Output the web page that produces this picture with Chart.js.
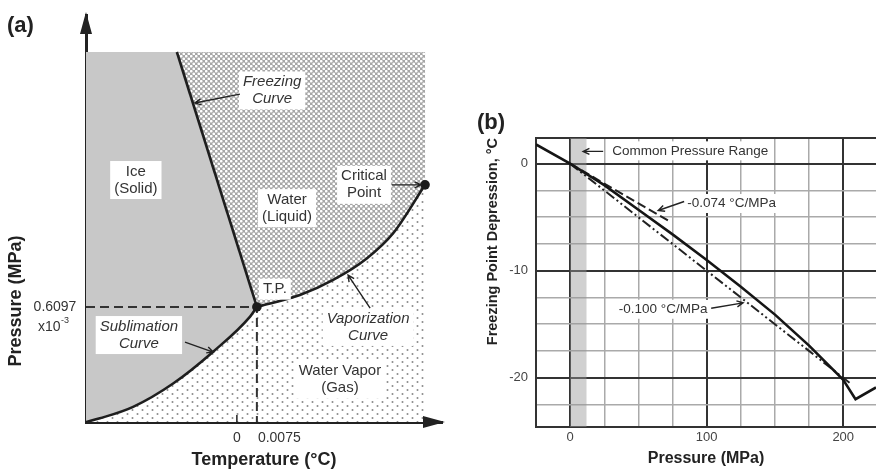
<!DOCTYPE html>
<html>
<head>
<meta charset="utf-8">
<title>Water phase diagram and freezing point depression</title>
<script src="https://cdn.jsdelivr.net/npm/chart.js@4.4.1/dist/chart.umd.min.js"></script>
<style>
  html, body { margin: 0; padding: 0; background: #fff; }
  #wrap { position: relative; width: 876px; height: 471px; overflow: hidden; }
  #phaseChart { position: absolute; left: 0; top: 0; }
  #depressionChart { position: absolute; left: 460px; top: 0; }
</style>
</head>
<body>
<div id="wrap">
  <canvas id="phaseChart" width="460" height="471"></canvas>
  <canvas id="depressionChart" width="416" height="471"></canvas>
</div>
<script>
// (a) schematic phase diagram - arbitrary units, shaded field spans 0..100 on both axes
const diagramT = [0, 100];
const diagramP = [0, 100];
const sublimationT = [0, 4.1, 13.9, 25.7, 37.5, 48.4, 50.4];
const sublimationP = [0, 1.0, 4.1, 10.4, 19.0, 28.5, 31.1];
const vaporizationT = [50.4, 63.1, 72.9, 82.8, 90.6, 100];
const vaporizationP = [31.1, 34.3, 38.4, 44.2, 51.0, 64.1];
const freezingT = [50.4, 26.8];
const freezingP = [31.1, 100];
const triplePoint = [50.4, 31.1];
const criticalPoint = [100, 64.1];
const zeroCelsiusT = 44.5;
const tempTickLabels = ['0', '0.0075'];
const pressTickLabel = '0.6097';

// (b) melting curve of ice vs pressure, with two linear approximations
const pressureMPa = [-25, 0, 25, 50, 75, 100, 125, 150, 175, 200, 209, 224];
const freezingPointC = [1.8, 0, -2.0, -4.3, -6.6, -9.0, -11.5, -14.1, -17.0, -20.2, -22.0, -20.9];
const slope074P = [0, 73];
const slope074T = [0, -5.4];
const slope100P = [0, 205];
const slope100T = [0, -20.5];
const commonRangeMPa = [0, 12];
const pressureTicks = [-25, 0, 25, 50, 75, 100, 125, 150, 175, 200];
const depressionTicks = [-22.5, -20, -17.5, -15, -12.5, -10, -7.5, -5, -2.5, 0];
const pressureRange = [-25, 224];
const depressionRange = [-24.6, 2.4];

const FONT = "'Liberation Sans', Arial, Helvetica, sans-serif";
Chart.defaults.font.family = FONT;

const pts = (xs, ys) => xs.map((x, i) => ({ x: x, y: ys[i] }));

// fill patterns for the liquid (mesh) and vapour (dots) fields
function meshPattern() {
    const c = document.createElement('canvas');
    c.width = 5; c.height = 5;
    const g = c.getContext('2d');
    g.fillStyle = '#a6a6a6';
    g.fillRect(0, 0, 5, 5);
    g.fillStyle = '#ffffff';
    [[1.25, 1.25], [3.75, 3.75]].forEach(([x, y]) => {
        g.beginPath(); g.arc(x, y, 1.35, 0, Math.PI * 2); g.fill();
    });
    return g.createPattern(c, 'repeat');
}
function dotPattern() {
    const c = document.createElement('canvas');
    c.width = 10; c.height = 8;
    const g = c.getContext('2d');
    g.fillStyle = '#ffffff';
    g.fillRect(0, 0, 10, 8);
    g.fillStyle = '#8a8a8a';
    [[2.5, 2], [7.5, 6]].forEach(([x, y]) => {
        g.beginPath(); g.arc(x, y, 1.0, 0, Math.PI * 2); g.fill();
    });
    return g.createPattern(c, 'repeat');
}

function arrow(ctx, x1, y1, x2, y2) {
    const a = Math.atan2(y2 - y1, x2 - x1);
    ctx.beginPath();
    ctx.moveTo(x1, y1);
    ctx.lineTo(x2, y2);
    ctx.moveTo(x2 - 7 * Math.cos(a - 0.45), y2 - 7 * Math.sin(a - 0.45));
    ctx.lineTo(x2, y2);
    ctx.lineTo(x2 - 7 * Math.cos(a + 0.45), y2 - 7 * Math.sin(a + 0.45));
    ctx.stroke();
}

// boxed text labels + pointer arrows, placed in data units
function notesPlugin(items, size, lineH) {
    return {
        id: 'notes',
        afterDatasetsDraw(chart) {
            const { ctx, scales: { x, y } } = chart;
            ctx.save();
            items.forEach(n => {
                ctx.font = (n.italic ? 'italic ' : '') + size + 'px ' + FONT;
                const cx = x.getPixelForValue(n.at[0]);
                const cy = y.getPixelForValue(n.at[1]);
                const w = Math.max(...n.lines.map(l => ctx.measureText(l).width)) + 8;
                const h = n.lines.length * lineH + 4;
                ctx.fillStyle = '#fff';
                ctx.fillRect(cx - w / 2, cy - h / 2, w, h);
                ctx.fillStyle = '#333';
                ctx.textAlign = 'center';
                ctx.textBaseline = 'middle';
                n.lines.forEach((l, i) => {
                    ctx.fillText(l, cx, cy - (n.lines.length - 1) * lineH / 2 + i * lineH);
                });
                if (n.arrow) {
                    ctx.strokeStyle = '#222';
                    ctx.lineWidth = 1.4;
                    const [[ax, ay], [bx, by]] = n.arrow;
                    arrow(ctx, x.getPixelForValue(ax), y.getPixelForValue(ay),
                        x.getPixelForValue(bx), y.getPixelForValue(by));
                }
            });
            ctx.restore();
        }
    };
}

// ---------- (a) phase diagram ----------
const phaseNotes = [
    { lines: ['Ice', '(Solid)'], at: [14.7, 65.4] },
    { lines: ['Freezing', 'Curve'], at: [54.9, 89.6], italic: true, arrow: [[45.4, 88.6], [32.1, 86.2]] },
    { lines: ['Water', '(Liquid)'], at: [59.3, 57.8] },
    { lines: ['Critical', 'Point'], at: [82.0, 64.1], arrow: [[90.2, 64.1], [98.8, 64.1]] },
    { lines: ['T.P.'], at: [55.7, 35.9] },
    { lines: ['Sublimation', 'Curve'], at: [15.6, 23.5], italic: true, arrow: [[29.2, 21.6], [37.5, 18.9]] },
    { lines: ['Vaporization', 'Curve'], at: [83.2, 25.7], italic: true, arrow: [[83.8, 30.8], [77.3, 39.7]] },
    { lines: ['Water Vapor', '(Gas)'], at: [74.9, 11.4] }
];

const phaseAxes = {
    id: 'phaseAxes',
    afterDraw(chart) {
        const { ctx, chartArea: a, scales: { x, y } } = chart;
        ctx.save();
        ctx.fillStyle = '#222';
        // arrow heads on both axes
        ctx.beginPath();
        ctx.moveTo(a.left, a.top - 3);
        ctx.lineTo(a.left - 6, a.top + 19);
        ctx.lineTo(a.left + 6, a.top + 19);
        ctx.fill();
        ctx.beginPath();
        ctx.moveTo(a.right + 3, a.bottom);
        ctx.lineTo(a.right - 19, a.bottom - 6);
        ctx.lineTo(a.right - 19, a.bottom + 6);
        ctx.fill();
        // tick at 0 degC
        const x0 = x.getPixelForValue(zeroCelsiusT);
        ctx.strokeStyle = '#222';
        ctx.lineWidth = 1.5;
        ctx.beginPath();
        ctx.moveTo(x0, a.bottom);
        ctx.lineTo(x0, a.bottom - 7);
        ctx.stroke();
        // tick labels
        ctx.fillStyle = '#333';
        ctx.font = '14px ' + FONT;
        ctx.textBaseline = 'middle';
        ctx.textAlign = 'center';
        ctx.fillText(tempTickLabels[0], x0, a.bottom + 16);
        ctx.textAlign = 'left';
        ctx.fillText(tempTickLabels[1], x.getPixelForValue(triplePoint[0]) + 1, a.bottom + 16);
        const yTp = y.getPixelForValue(triplePoint[1]);
        ctx.textAlign = 'center';
        ctx.fillText(pressTickLabel, a.left - 31, yTp);
        ctx.textAlign = 'left';
        ctx.fillText('x10', a.left - 48, yTp + 20);
        ctx.font = '9px ' + FONT;
        ctx.fillText('-3', a.left - 25, yTp + 14);
        // axis titles
        ctx.fillStyle = '#222';
        ctx.font = 'bold 18px ' + FONT;
        ctx.textAlign = 'center';
        ctx.fillText('Temperature (°C)', (a.left + a.right) / 2, a.bottom + 38);
        ctx.save();
        ctx.translate(a.left - 70, a.top + 286);
        ctx.rotate(-Math.PI / 2);
        ctx.fillText('Pressure (MPa)', 0, 0);
        ctx.restore();
        ctx.font = 'bold 22px ' + FONT;
        ctx.textAlign = 'left';
        ctx.fillText('(a)', 7, 26);
        ctx.restore();
    }
};

const curveStyle = { borderColor: '#1e1e1e', borderWidth: 2.6, pointRadius: 0, fill: false, cubicInterpolationMode: 'monotone', order: 3 };
const regionStyle = { borderWidth: 0, pointRadius: 0, fill: 'shape', tension: 0 };

new Chart(document.getElementById('phaseChart'), {
    type: 'line',
    data: {
        datasets: [
            Object.assign({ label: 'Vapour field', order: 10, backgroundColor: dotPattern(),
                data: [{ x: diagramT[0], y: diagramP[0] }, { x: diagramT[1], y: diagramP[0] },
                       { x: diagramT[1], y: diagramP[1] }, { x: diagramT[0], y: diagramP[1] }] }, regionStyle),
            Object.assign({ label: 'Liquid field', order: 9, backgroundColor: meshPattern(),
                data: pts(vaporizationT, vaporizationP).concat([{ x: diagramT[1], y: diagramP[1] }, { x: freezingT[1], y: freezingP[1] }]) }, regionStyle),
            Object.assign({ label: 'Ice field', order: 8, backgroundColor: '#c8c8c8',
                data: pts(sublimationT, sublimationP).concat([{ x: freezingT[1], y: freezingP[1] }, { x: diagramT[0], y: diagramP[1] }]) }, regionStyle),
            Object.assign({ label: 'Sublimation', data: pts(sublimationT, sublimationP) }, curveStyle),
            Object.assign({ label: 'Vaporization', data: pts(vaporizationT, vaporizationP) }, curveStyle),
            Object.assign({ label: 'Freezing', data: pts(freezingT, freezingP) }, curveStyle, { cubicInterpolationMode: 'default', tension: 0 }),
            {
                label: 'Triple point guides', order: 4, borderColor: '#333', borderWidth: 2, borderDash: [9, 5],
                pointRadius: 0, fill: false, tension: 0,
                data: [{ x: diagramT[0], y: triplePoint[1] }, { x: triplePoint[0], y: triplePoint[1] }, { x: triplePoint[0], y: diagramP[0] }]
            },
            {
                label: 'Points', order: 1, showLine: false, pointRadius: 4.8, pointBackgroundColor: '#1a1a1a',
                pointBorderWidth: 0, data: [{ x: triplePoint[0], y: triplePoint[1] }, { x: criticalPoint[0], y: criticalPoint[1] }]
            }
        ]
    },
    options: {
        responsive: false,
        animation: false,
        devicePixelRatio: 1,
        layout: { padding: { left: 86, right: 18, top: 15, bottom: 49 } },
        plugins: { legend: { display: false }, tooltip: { enabled: false } },
        scales: {
            x: { type: 'linear', min: 0, max: 105, grid: { display: false, drawTicks: false }, ticks: { display: false },
                 border: { display: true, width: 3, color: '#222' } },
            y: { type: 'linear', min: 0, max: 110, grid: { display: false, drawTicks: false }, ticks: { display: false },
                 border: { display: true, width: 3, color: '#222' } }
        }
    },
    plugins: [notesPlugin(phaseNotes, 15, 17), phaseAxes]
});

// ---------- (b) freezing point depression ----------
const depressionNotes = [
    { lines: ['Common Pressure Range'], at: [87.9, 1.2], arrow: [[24.2, 1.15], [9.5, 1.15]] },
    { lines: ['-0.074 °C/MPa'], at: [118.3, -3.72], arrow: [[83.5, -3.53], [64.5, -4.37]] },
    { lines: ['-0.100 °C/MPa'], at: [68.1, -13.6], arrow: [[103.3, -13.5], [126.7, -13.0]] }
];

const panelLetter = {
    id: 'panelLetter',
    afterDraw(chart) {
        const ctx = chart.ctx;
        ctx.save();
        ctx.fillStyle = '#222';
        ctx.font = 'bold 22px ' + FONT;
        ctx.textBaseline = 'middle';
        ctx.fillText('(b)', 17, 123);
        ctx.restore();
    }
};

const isMajor = (v, step) => Math.abs(v / step - Math.round(v / step)) < 1e-6;

new Chart(document.getElementById('depressionChart'), {
    type: 'line',
    data: {
        datasets: [
            {
                label: 'Common pressure range', order: 10, borderWidth: 0, pointRadius: 0, fill: 'shape', tension: 0,
                backgroundColor: 'rgba(150,150,150,0.45)',
                data: [{ x: commonRangeMPa[0], y: depressionRange[0] }, { x: commonRangeMPa[1], y: depressionRange[0] },
                       { x: commonRangeMPa[1], y: depressionRange[1] }, { x: commonRangeMPa[0], y: depressionRange[1] }]
            },
            {
                label: '-0.100 °C/MPa', order: 3, borderColor: '#222', borderWidth: 2, borderDash: [10, 3, 2, 3, 2, 3],
                pointRadius: 0, fill: false, tension: 0, data: pts(slope100P, slope100T)
            },
            {
                label: '-0.074 °C/MPa', order: 2, borderColor: '#222', borderWidth: 2, borderDash: [9, 4],
                pointRadius: 0, fill: false, tension: 0, data: pts(slope074P, slope074T)
            },
            {
                label: 'Freezing point', order: 1, borderColor: '#151515', borderWidth: 2.6,
                pointRadius: 0, fill: false, tension: 0, data: pts(pressureMPa, freezingPointC)
            }
        ]
    },
    options: {
        responsive: false,
        animation: false,
        devicePixelRatio: 1,
        layout: { padding: { left: 0, right: 0, top: 138, bottom: 0 } },
        plugins: { legend: { display: false }, tooltip: { enabled: false } },
        scales: {
            x: {
                type: 'linear', min: pressureRange[0], max: pressureRange[1],
                afterBuildTicks: s => { s.ticks = pressureTicks.map(v => ({ value: v })); },
                afterFit: s => { s.height = 44; },
                grid: {
                    drawTicks: false,
                    color: c => isMajor(c.tick.value, 100) ? '#333' : '#aaaaaa',
                    lineWidth: c => isMajor(c.tick.value, 100) ? 2 : 1.5
                },
                border: { display: true, color: '#333', width: 2 },
                ticks: {
                    autoSkip: false, maxRotation: 0, padding: 3, color: '#444', font: { size: 13 },
                    callback: v => isMajor(v, 100) ? String(v) : ''
                },
                title: { display: true, text: 'Pressure (MPa)', color: '#222', font: { size: 16, weight: 'bold' },
                         padding: { top: 0, bottom: 3 } }
            },
            y: {
                type: 'linear', min: depressionRange[0], max: depressionRange[1],
                afterBuildTicks: s => { s.ticks = depressionTicks.concat([depressionRange[1]]).map(v => ({ value: v })); },
                afterFit: s => { s.width = 76; },
                grid: {
                    drawTicks: false,
                    color: c => (isMajor(c.tick.value, 10) || c.tick.value === depressionRange[1]) ? '#333' : '#aaaaaa',
                    lineWidth: c => (isMajor(c.tick.value, 10) || c.tick.value === depressionRange[1]) ? 2 : 1.5
                },
                border: { display: true, color: '#333', width: 2 },
                ticks: {
                    autoSkip: false, padding: 8, color: '#444', font: { size: 13 },
                    callback: v => isMajor(v, 10) ? String(v) : ''
                },
                title: { display: true, text: 'Freezing Point Depression, °C', align: 'end', color: '#222',
                         font: { size: 14.5, weight: 'bold' }, padding: { top: 24, bottom: 0 } }
            }
        }
    },
    plugins: [notesPlugin(depressionNotes, 13.5, 15), panelLetter]
});
</script>
</body>
</html>
